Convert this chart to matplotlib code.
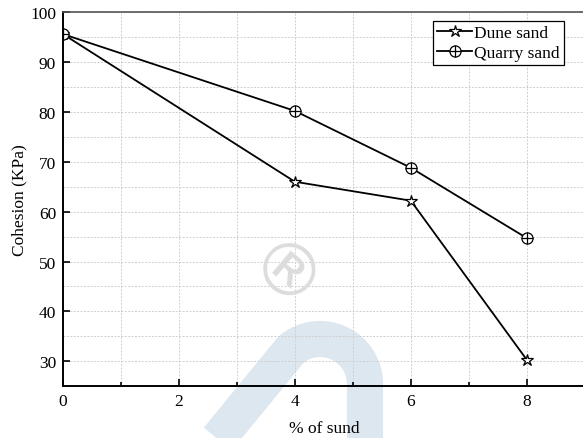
import matplotlib
matplotlib.use("Agg")
import matplotlib.pyplot as plt
from matplotlib.ticker import MultipleLocator
from matplotlib.lines import Line2D
from matplotlib.legend_handler import HandlerTuple
import numpy as np

plt.rcParams['font.family'] = ['Liberation Serif', 'DejaVu Serif']

sand_pct = [0, 4, 6, 8]
dune_sand = [95.6, 66.0, 62.2, 30.3]
quarry_sand = [95.6, 80.2, 68.8, 54.7]

fig = plt.figure(figsize=(5.83, 4.39), dpi=100)
ax = fig.add_axes([0.108, 0.118, 0.895, 0.852])

# faint watermark behind the plot
W, H = 583, 439
t = np.linspace(np.radians(130), np.radians(0), 60)
cx, cy, r = 320, 385, 45
xs = [208] + list(cx + r * np.cos(t)) + [365]
ys = [452] + list(cy - r * np.sin(t)) + [452]
fig.add_artist(Line2D(np.array(xs) / W, 1 - np.array(ys) / H, lw=26,
                     color='#dde7f0', solid_capstyle='butt',
                     solid_joinstyle='round', zorder=0))
fig.text(282 / W, 1 - 280 / H, '®', fontsize=52, color='#dcdcdc',
         ha='center', va='center', rotation=-40, family='DejaVu Sans', zorder=0.5)
ax.patch.set_alpha(0)

dune_line, = ax.plot(sand_pct, dune_sand, color='black', lw=1.3, marker='*', ms=9,
                     mfc='white', mec='black', mew=0.9, zorder=3)
quarry_line, = ax.plot(sand_pct, quarry_sand, color='black', lw=1.3, marker='o', ms=8,
                       mfc='white', mec='black', mew=0.9, zorder=3)
quarry_plus, = ax.plot(sand_pct, quarry_sand, ls='none', marker='+', ms=8,
                       mec='black', mew=0.9, zorder=4)

ax.set_xlim(0, 9)
ax.set_ylim(25, 100)
ax.xaxis.set_major_locator(MultipleLocator(2))
ax.xaxis.set_minor_locator(MultipleLocator(1))
ax.yaxis.set_major_locator(MultipleLocator(10))
ax.yaxis.set_minor_locator(MultipleLocator(5))
ax.tick_params(which='both', direction='in', width=1.2, labelsize=12.5, pad=5)
ax.tick_params(which='major', length=5)
ax.tick_params(which='minor', length=3)
ax.tick_params(axis='y', which='minor', length=0)
ax.grid(which='both', ls=(0, (2, 1.5)), color='#cfcfcf', lw=0.7)
ax.set_axisbelow(True)

for side in ['left', 'bottom']:
    ax.spines[side].set_linewidth(1.4)
ax.spines['top'].set_color('#555555')
ax.spines['top'].set_linewidth(1.2)
ax.spines['right'].set_visible(False)

ax.set_xlabel('% of sund', fontsize=12.5, labelpad=8)
ax.set_ylabel('Cohesion (KPa)', fontsize=12.5, labelpad=2)

leg = ax.legend([dune_line, (quarry_line, quarry_plus)], ['Dune sand', 'Quarry sand'],
                handler_map={tuple: HandlerTuple(ndivide=1, pad=0)},
                loc='upper right', bbox_to_anchor=(0.96, 0.977), fontsize=12.5,
                fancybox=False, framealpha=1, edgecolor='black',
                handlelength=2.0, handletextpad=0.1, borderpad=0.25,
                labelspacing=0.2, borderaxespad=0)
leg.get_frame().set_linewidth(0.9)

fig.savefig('out.png', dpi=100)
